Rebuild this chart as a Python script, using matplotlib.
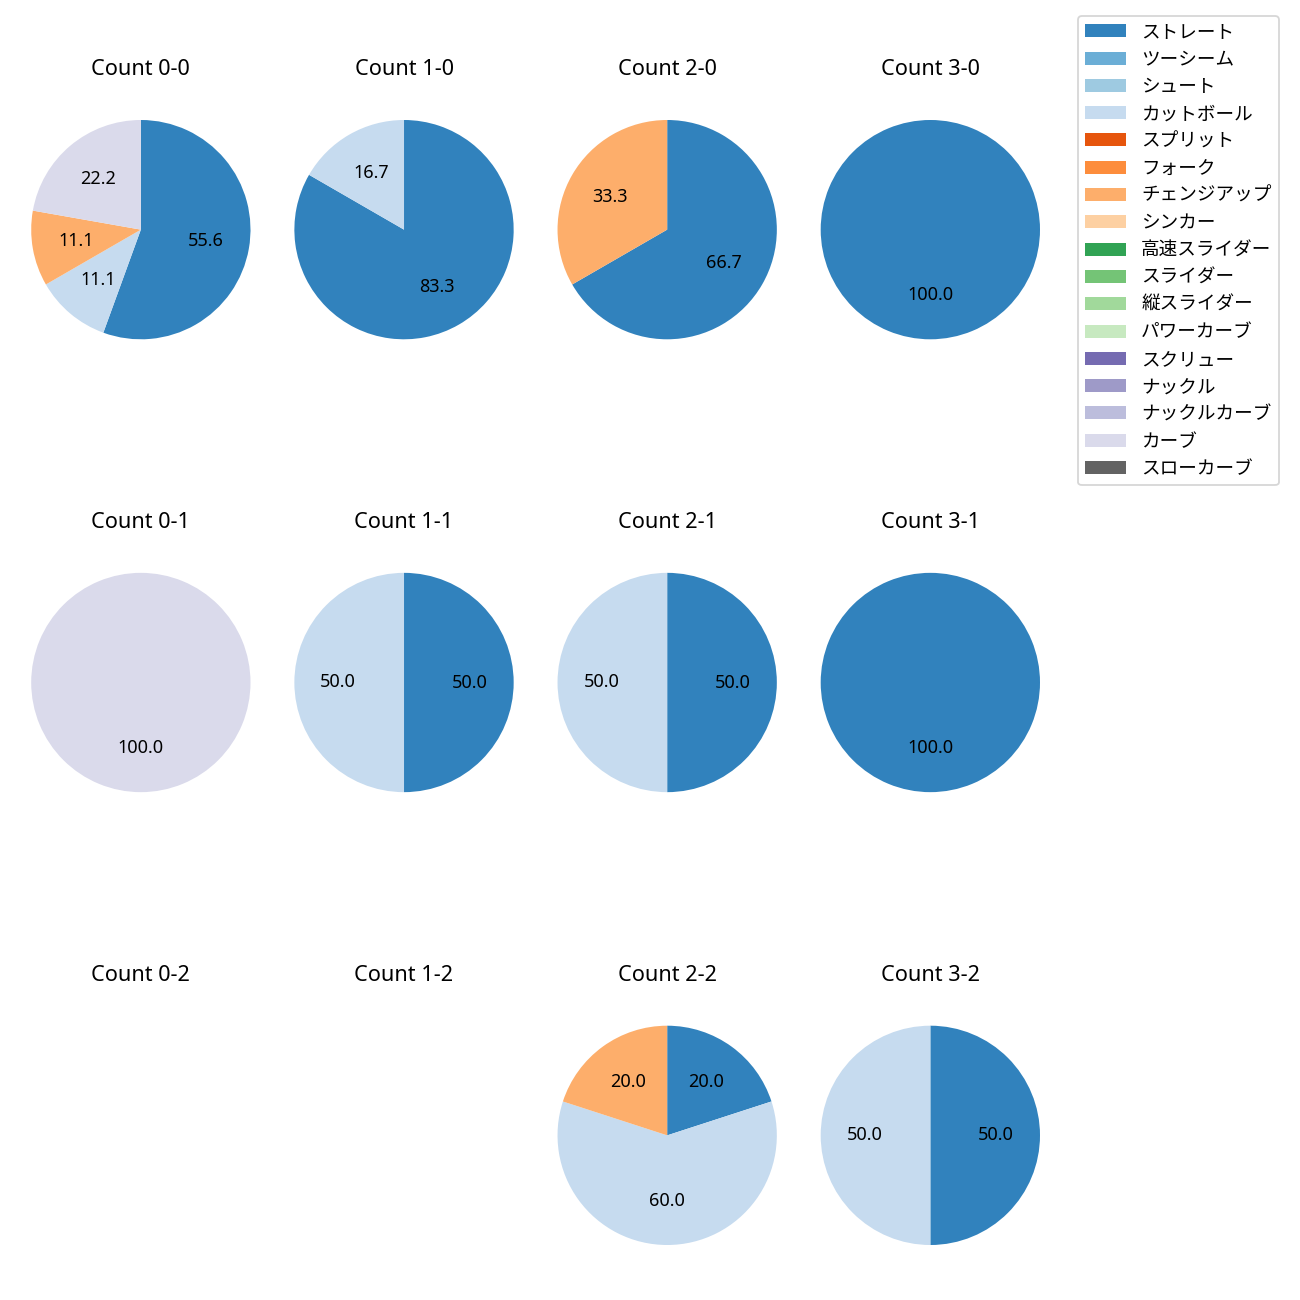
import matplotlib
matplotlib.use("Agg")
import matplotlib.pyplot as plt
from matplotlib.patches import Patch

plt.rcParams['font.family'] = ['Noto Sans', 'Noto Sans CJK JP', 'DejaVu Sans']

# pitch types (legend order) and their colours from tab20c
pitch_types = ['ストレート', 'ツーシーム', 'シュート', 'カットボール', 'スプリット',
               'フォーク', 'チェンジアップ', 'シンカー', '高速スライダー', 'スライダー',
               '縦スライダー', 'パワーカーブ', 'スクリュー', 'ナックル', 'ナックルカーブ',
               'カーブ', 'スローカーブ']

# pitch counts per ball-strike count
balls = [0, 1, 2, 3]
strikes = [0, 1, 2]
counts = {
    '0-0': {'ストレート': 5, 'カットボール': 1, 'チェンジアップ': 1, 'カーブ': 2},
    '1-0': {'ストレート': 5, 'カットボール': 1},
    '2-0': {'ストレート': 2, 'チェンジアップ': 1},
    '3-0': {'ストレート': 1},
    '0-1': {'カーブ': 1},
    '1-1': {'ストレート': 1, 'カットボール': 1},
    '2-1': {'ストレート': 1, 'カットボール': 1},
    '3-1': {'ストレート': 1},
    '0-2': {},
    '1-2': {},
    '2-2': {'ストレート': 1, 'カットボール': 3, 'チェンジアップ': 1},
    '3-2': {'ストレート': 1, 'カットボール': 1},
}


def main():
    cmap = plt.get_cmap('tab20c')
    colors = [cmap(i) for i in range(len(pitch_types))]

    fig, axes = plt.subplots(len(strikes), len(balls), figsize=(10, 10))
    fig.subplots_adjust(left=0.024, right=0.8, top=0.935, bottom=0.015,
                        wspace=0.2, hspace=0.56)

    for r, s in enumerate(strikes):
        for c, b in enumerate(balls):
            ax = axes[r, c]
            key = f'{b}-{s}'
            data = counts[key]
            vals = [data[p] for p in pitch_types if data.get(p, 0) > 0]
            cols = [colors[i] for i, p in enumerate(pitch_types) if data.get(p, 0) > 0]
            if vals:
                ax.pie(vals, colors=cols, autopct='%.1f', startangle=90,
                       counterclock=False)
                ax.set_aspect('equal', adjustable='datalim')
                ax.set_xlim(-1, 1)
                ax.set_ylim(-1, 1)
            ax.axis('off')
            ax.set_title(f'Count {key}', pad=5)

    # legend with every pitch type
    handles = [Patch(facecolor=colors[i], label=p) for i, p in enumerate(pitch_types)]
    fig.legend(handles=handles, loc='upper right', bbox_to_anchor=(0.991, 0.995),
               fontsize=10.3, handlelength=2.2)

    fig.savefig('out.png', dpi=130)


if __name__ == "__main__":
    main()
